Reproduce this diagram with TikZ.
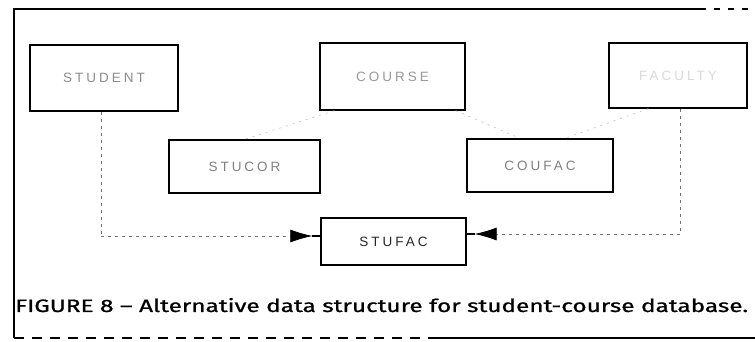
\documentclass[tikz,border=0pt]{standalone}
\usepackage{fontspec}
\usetikzlibrary{arrows.meta}
\newfontfamily\boxfont{Liberation Sans}[LetterSpace=22]
\newfontfamily\capfont{Fira Sans}[Ligatures=TeX,FakeBold=0.8]
\begin{document}
\begin{tikzpicture}[x=1pt,y=1pt,
  recbox/.style={draw=black,line width=1.3pt,inner sep=0pt,font=\boxfont\fontsize{13.5}{15}\selectfont},
  link/.style={draw=black!55,line width=0.7pt,dash pattern=on 3pt off 4pt},
  faint/.style={draw=black!25,line width=0.6pt,dash pattern=on 2pt off 5pt},
  head/.style={-{Latex[length=22pt,width=13pt,black]}},
  stub/.style={draw=black,line width=2.5pt},
  frame/.style={draw=black,line width=1.2pt}]
\useasboundingbox (0,0) rectangle (755,342);
% frame
\draw[frame] (14,4) -- (14,333) -- (700,333);
\draw[frame,dash pattern=on 6pt off 8pt] (700,333) -- (755,333);
\draw[frame,dash pattern=on 10pt off 8pt] (14,4) -- (430,4);
\draw[frame] (430,4) -- (755,4);
% boxes
\node[recbox,minimum width=148pt,minimum height=66pt,text=black!45] (student) at (104,264) {STUDENT};
\node[recbox,minimum width=145pt,minimum height=67pt,text=black!40] (course) at (392.5,265.5) {COURSE};
\node[recbox,minimum width=138pt,minimum height=65pt,text=black!15] (faculty) at (678,266.5) {FACULTY};
\node[recbox,minimum width=151pt,minimum height=53pt,text=black!50] (stucor) at (244.5,175.5) {STUCOR};
\node[recbox,minimum width=146pt,minimum height=53pt,text=black!50] (coufac) at (540,176.5) {COUFAC};
\node[recbox,minimum width=145pt,minimum height=47pt,text=black!85] (stufac) at (393.5,100.5) {STUFAC};
% connectors
\coordinate (sbend) at (101,106);
\coordinate (fbend) at (680,108);
\coordinate (stip) at ([yshift=5.5pt,xshift=-8pt]stufac.west);
\coordinate (ftip) at ([yshift=7.5pt,xshift=8pt]stufac.east);
\draw[link] (student.south -| sbend) -- (sbend);
\draw[link,head] (sbend) -- (stip -| sbend) -- (stip);
\draw[stub] (stip) -- (stip -| stufac.west);
\draw[link] (faculty.south -| fbend) -- (fbend);
\draw[link,head] (fbend) -- (ftip -| fbend) -- (ftip);
\draw[stub] (ftip) -- (ftip -| stufac.east);
% faint links
\draw[faint] ([xshift=15pt]course.south west) -- (stucor.north);
\draw[faint] ([xshift=-10pt]course.south east) -- ([xshift=-20pt]coufac.north);
\draw[faint] ([xshift=40pt]faculty.south west) -- ([xshift=25pt]coufac.north);
% caption
\node[anchor=base west,inner sep=0pt] (caption) at (15,30) {\resizebox{733pt}{14pt}{\capfont FIGURE 8 – Alternative data structure for student-course database.}};
\end{tikzpicture}
\end{document}
